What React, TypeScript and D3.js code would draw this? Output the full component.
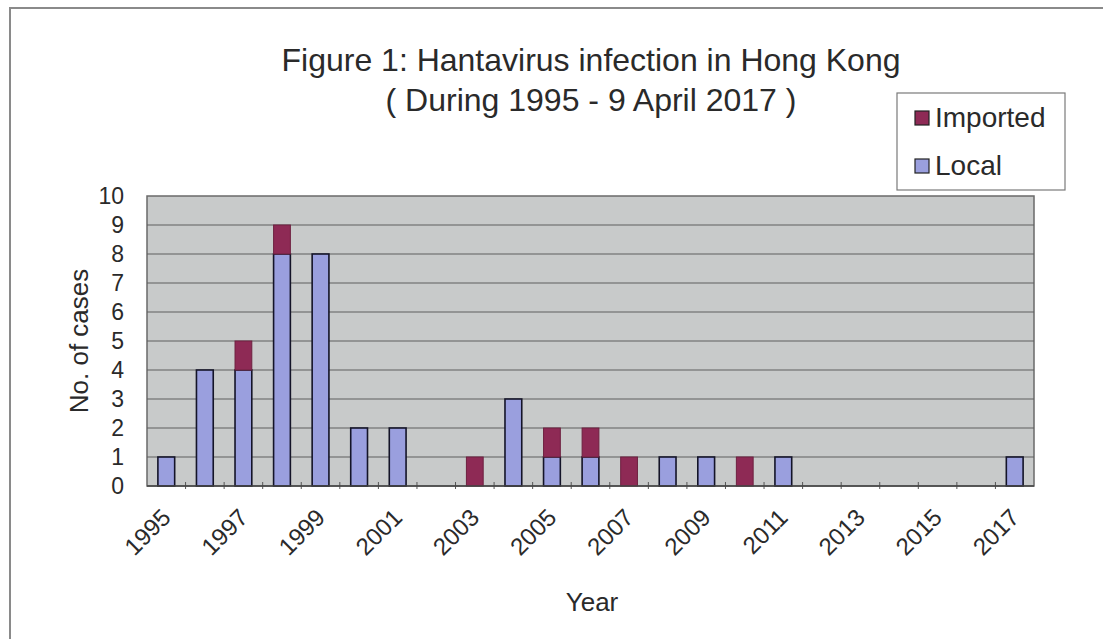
import React, { useEffect, useRef } from "react";
import * as d3 from "d3";

const years = [
  "1995", "1996", "1997", "1998", "1999", "2000", "2001", "2002", "2003", "2004", "2005", "2006",
  "2007", "2008", "2009", "2010", "2011", "2012", "2013", "2014", "2015", "2016", "2017",
];
const local = [1, 4, 4, 8, 8, 2, 2, 0, 0, 3, 1, 1, 0, 1, 1, 0, 1, 0, 0, 0, 0, 0, 1];
const imported = [0, 0, 1, 1, 0, 0, 0, 0, 1, 0, 1, 1, 1, 0, 0, 1, 0, 0, 0, 0, 0, 0, 0];
const yTicks = [0, 1, 2, 3, 4, 5, 6, 7, 8, 9, 10];
const xLabelYears = ["1995", "1997", "1999", "2001", "2003", "2005", "2007", "2009", "2011", "2013", "2015", "2017"];
const titleLines = ["Figure 1: Hantavirus infection in Hong Kong", "( During 1995 - 9 April 2017 )"];
const legendItems = [
  { name: "Imported", color: "#8e2a55" },
  { name: "Local", color: "#9a9fde" },
];

const W = 1103;
const H = 639;
const plot = { left: 147, right: 1034, top: 196, bottom: 486 };
const FONT = "'Liberation Sans', Arial, sans-serif";

export default function App() {
  const ref = useRef<SVGSVGElement | null>(null);

  useEffect(() => {
    const svg = d3.select(ref.current);
    svg.selectAll("*").remove();

    const x = d3
      .scaleBand<string>()
      .domain(years)
      .range([plot.left, plot.right])
      .paddingInner(0.565)
      .paddingOuter(0.2825);
    const y = d3.scaleLinear().domain([0, 10]).range([plot.bottom, plot.top]);
    const step = (plot.right - plot.left) / years.length;

    // outer frame
    svg.append("rect").attr("width", W).attr("height", H).attr("fill", "#ffffff");
    svg
      .append("path")
      .attr("d", `M10,${H} L10,8 L${W},8`)
      .attr("fill", "none")
      .attr("stroke", "#8a8a8a")
      .attr("stroke-width", 2);

    // title
    titleLines.forEach((t, i) => {
      svg
        .append("text")
        .attr("x", 591)
        .attr("y", 71 + i * 40)
        .attr("text-anchor", "middle")
        .attr("font-family", FONT)
        .attr("font-size", 32)
        .attr("fill", "#2a2a2a")
        .text(t);
    });

    // plot area
    svg
      .append("rect")
      .attr("x", plot.left)
      .attr("y", plot.top)
      .attr("width", plot.right - plot.left)
      .attr("height", plot.bottom - plot.top)
      .attr("fill", "#c8caca")
      .attr("stroke", "#6a6a6a")
      .attr("stroke-width", 1.5);

    // gridlines
    svg
      .append("g")
      .selectAll("line")
      .data(yTicks.filter((v) => v > 0 && v < 10))
      .join("line")
      .attr("x1", plot.left)
      .attr("x2", plot.right)
      .attr("y1", (d) => y(d))
      .attr("y2", (d) => y(d))
      .attr("stroke", "#5e5e5e")
      .attr("stroke-width", 1.2);

    // y tick labels
    svg
      .append("g")
      .selectAll("text")
      .data(yTicks)
      .join("text")
      .attr("x", 124)
      .attr("y", (d) => y(d))
      .attr("dy", "0.35em")
      .attr("text-anchor", "end")
      .attr("font-family", FONT)
      .attr("font-size", 23)
      .attr("fill", "#2a2a2a")
      .text((d) => String(d));

    // y axis title
    svg
      .append("text")
      .attr("transform", `translate(88,341) rotate(-90)`)
      .attr("text-anchor", "middle")
      .attr("font-family", FONT)
      .attr("font-size", 26)
      .attr("fill", "#2a2a2a")
      .text("No. of cases");

    // x tick marks at category boundaries
    svg
      .append("g")
      .selectAll("line")
      .data(d3.range(1, years.length))
      .join("line")
      .attr("x1", (i) => plot.left + i * step)
      .attr("x2", (i) => plot.left + i * step)
      .attr("y1", plot.bottom - 4)
      .attr("y2", plot.bottom + 3)
      .attr("stroke", "#555")
      .attr("stroke-width", 1);

    // bars: local (bottom)
    svg
      .append("g")
      .selectAll("rect")
      .data(years.map((yr, i) => ({ yr, v: local[i] })).filter((d) => d.v > 0))
      .join("rect")
      .attr("x", (d) => x(d.yr)!)
      .attr("width", x.bandwidth())
      .attr("y", (d) => y(d.v))
      .attr("height", (d) => y(0) - y(d.v))
      .attr("fill", legendItems[1].color)
      .attr("stroke", "#141428")
      .attr("stroke-width", 1.6);

    // bars: imported (stacked)
    svg
      .append("g")
      .selectAll("rect")
      .data(years.map((yr, i) => ({ yr, base: local[i], v: imported[i] })).filter((d) => d.v > 0))
      .join("rect")
      .attr("x", (d) => x(d.yr)!)
      .attr("width", x.bandwidth())
      .attr("y", (d) => y(d.base + d.v))
      .attr("height", (d) => y(d.base) - y(d.base + d.v))
      .attr("fill", legendItems[0].color)
      .attr("stroke", "#6e2040")
      .attr("stroke-width", 1);

    // x axis line
    svg
      .append("line")
      .attr("x1", plot.left)
      .attr("x2", plot.right)
      .attr("y1", plot.bottom)
      .attr("y2", plot.bottom)
      .attr("stroke", "#444")
      .attr("stroke-width", 1.5);

    // x labels
    svg
      .append("g")
      .selectAll("text")
      .data(xLabelYears)
      .join("text")
      .attr("transform", (d) => `translate(${x(d)! + x.bandwidth() / 2},513) rotate(-45)`)
      .attr("dy", "0.35em")
      .attr("text-anchor", "end")
      .attr("font-family", FONT)
      .attr("font-size", 24)
      .attr("fill", "#2a2a2a")
      .text((d) => d);

    // x axis title
    svg
      .append("text")
      .attr("x", 592)
      .attr("y", 611)
      .attr("text-anchor", "middle")
      .attr("font-family", FONT)
      .attr("font-size", 26)
      .attr("fill", "#2a2a2a")
      .text("Year");

    // legend
    const lg = svg.append("g");
    lg.append("rect")
      .attr("x", 897)
      .attr("y", 93)
      .attr("width", 168)
      .attr("height", 97)
      .attr("fill", "#ffffff")
      .attr("stroke", "#7a7a7a")
      .attr("stroke-width", 1.2);
    legendItems.forEach((it, i) => {
      const cy = 118 + i * 48;
      lg.append("rect")
        .attr("x", 915)
        .attr("y", cy - 7)
        .attr("width", 14)
        .attr("height", 14)
        .attr("fill", it.color)
        .attr("stroke", "#222")
        .attr("stroke-width", 1.2);
      lg.append("text")
        .attr("x", 935)
        .attr("y", cy + 9)
        .attr("font-family", FONT)
        .attr("font-size", 28)
        .attr("fill", "#2a2a2a")
        .text(it.name);
    });
  }, []);

  return (
    <svg
      ref={ref}
      width={W}
      height={H}
      style={{ position: "absolute", left: 0, top: 0, display: "block" }}
    />
  );
}
